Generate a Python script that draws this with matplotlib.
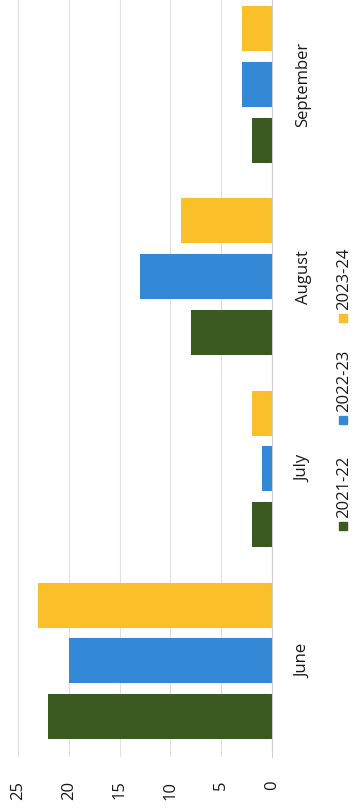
import matplotlib.pyplot as plt
import numpy as np
from matplotlib.patches import Rectangle

months = ['June', 'July', 'August', 'September']
series = ['2021-22', '2022-23', '2023-24']
v_2122 = [22, 2, 8, 2]
v_2223 = [20, 1, 13, 3]
v_2324 = [23, 2, 9, 3]
colors = ['#3b5a1f', '#3389d6', '#fbbf2a']
ticks = [0, 5, 10, 15, 20, 25]

plt.rcParams['font.family'] = ['Open Sans', 'DejaVu Sans']

W, H = 354, 808
fig = plt.figure(figsize=(W / 100, H / 100), dpi=100)
# axes placed in pixel terms, page is turned 90 degrees
left, right, top, bottom = 18, 272, -11.6, 757
ax = fig.add_axes([left / W, 1 - bottom / H, (right - left) / W, (bottom - top) / H])

y = np.arange(len(months))
off = 0.29
hgt = 0.234
for k, vals in enumerate([v_2122, v_2223, v_2324]):
    ax.barh(y + (k - 1) * off, vals, height=hgt, color=colors[k], edgecolor='none', zorder=3)

ax.set_xlim(25, 0)
ax.set_ylim(-0.5, len(months) - 0.5)
ax.set_xticks(ticks)
ax.set_xticklabels([str(t) for t in ticks], rotation=90, fontsize=12, color='#1a1a1a')
ax.tick_params(axis='x', length=0, pad=17)
ax.yaxis.tick_right()
ax.set_yticks(y)
ax.set_yticklabels(months, rotation=90, va='center', fontsize=12, color='#1a1a1a')
ax.tick_params(axis='y', length=0, pad=17)
ax.grid(axis='x', color='#e0e0e0', linewidth=0.8, zorder=0)
for s in ['top', 'bottom', 'left']:
    ax.spines[s].set_visible(False)
ax.spines['right'].set_color('#d0d0d0')
ax.spines['right'].set_linewidth(0.8)

# rotated legend drawn by hand
leg_y = [526, 420, 318]
for k, name in enumerate(series):
    fig.patches.append(Rectangle(((343 - 4) / W, 1 - (leg_y[k] + 4) / H), 8 / W, 8 / H,
                                 transform=fig.transFigure, color=colors[k]))
    fig.text(344 / W, 1 - (leg_y[k] - 8) / H, name, rotation=90, ha='center', va='bottom',
             fontsize=12, color='#1a1a1a')

fig.savefig('out.png', dpi=100)
